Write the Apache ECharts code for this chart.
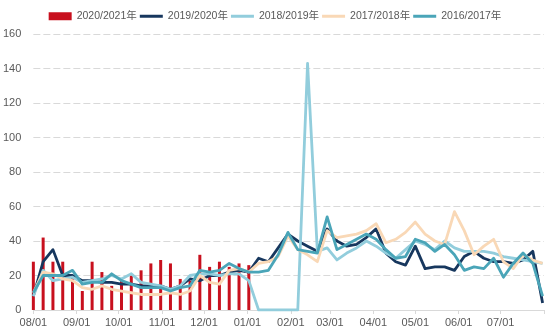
<!DOCTYPE html>
<html>
<head>
<meta charset="utf-8">
<script src="https://cdn.jsdelivr.net/npm/echarts@6/dist/echarts.min.js"></script>
<style>
html,body{margin:0;padding:0;background:#fff;}
#chart{width:550px;height:334px;}
</style>
</head>
<body>
<div id="chart"></div>
<script>
// Season names
const seriesNames = ['2020/2021年', '2019/2020年', '2018/2019年', '2017/2018年', '2016/2017年'];
// Month tick labels (MM/DD), season starts 08/01
const tickLabels = ['08/01', '09/01', '10/01', '11/01', '12/01', '01/01', '02/01', '03/01', '04/01', '05/01', '06/01', '07/01'];
const yTicks = [0, 20, 40, 60, 80, 100, 120, 140, 160];
// Weekly values (week 0 = 08/01)
const s2020 = [28, 42, 28, 28, 20, 11, 28, 22, 14, 18, 20, 23, 27, 29, 27, 18, 17, 32, 25, 28, 25, 27, 26];
const s2019 = [8, 28, 35, 20, 20, 17, 17, 16, 16, 15, 15, 14, 14, 14, 12, 14, 18, 17, 20, 20, 22, 23, 22, 30, 28, 36, 44, 40, 37, 34, 47, 40, 37, 38, 42, 47, 33, 28, 26, 37, 24, 25, 25, 23, 31, 34, 30, 28, 28, 27, 29, 34, 4];
const s2018 = [8, 23, 17, 18, 19, 16, 17, 18, 20, 18, 21, 16, 15, 14, 12, 14, 20, 21, 21, 20, 21, 21, 17, 0, 0, 0, 0, 0, 143, 34, 36, 29, 33, 36, 40, 37, 33, 30, 35, 40, 38, 35, 40, 36, 34, 34, 34, 33, 31, 30, 29, 28, 27];
const s2017 = [10, 22, 21, 18, 17, 13, 12, 14, 12, 11, 10, 9, 9, 9, 10, 9, 11, 20, 16, 15, 23, 24, 22, 27, 28, 31, 43, 35, 32, 28, 46, 42, 43, 44, 46, 50, 39, 41, 45, 51, 44, 40, 38, 57, 46, 32, 37, 41, 28, 24, 32, 29, 27];
const s2016 = [10, 20, 20, 20, 23, 15, 16, 16, 21, 17, 15, 13, 13, 13, 11, 13, 14, 23, 22, 23, 27, 24, 22, 22, 23, 32, 45, 35, 34, 33, 54, 35, 38, 41, 44, 41, 35, 30, 31, 41, 39, 34, 38, 32, 23, 25, 24, 30, 19, 27, 33, 27, 8];

const colors = ['#C8101E', '#17375E', '#92CDDC', '#F9D8B6', '#4AA5B8'];

// day offset from 08/01 for a MM/DD label
function dayOffset(lbl) {
  const m = parseInt(lbl.slice(0, 2), 10), d = parseInt(lbl.slice(3), 10);
  const y = m >= 8 ? 2020 : 2021;
  return Math.round((Date.UTC(y, m - 1, d) - Date.UTC(2020, 7, 1)) / 86400000);
}
const tickDays = tickLabels.map(dayOffset);
const labelByDay = {};
tickDays.forEach((d, i) => { labelByDay[d] = tickLabels[i]; });
const weekly = arr => arr.map((v, i) => [i * 7, v]);

const font = '"Liberation Sans", "Noto Sans CJK SC", sans-serif';
const chart = echarts.init(document.getElementById('chart'), null, { renderer: 'canvas' });
const lineIcon = 'path://M0,0 L23,0 L23,3 L0,3 Z';
const lineSeries = [s2019, s2018, s2017, s2016].map((arr, k) => ({
  name: seriesNames[k + 1],
  type: 'line',
  data: weekly(arr),
  showSymbol: false,
  symbol: 'none',
  lineStyle: { width: 2.8, color: colors[k + 1], join: 'round' },
  itemStyle: { color: colors[k + 1] },
  z: 3 + k
}));

chart.setOption({
  animation: false,
  textStyle: { fontFamily: font },
  legend: {
    top: 6,
    left: 'center',
    itemWidth: 23,
    itemHeight: 8,
    itemGap: 3,
    textStyle: { fontSize: 10.5, color: '#595959', fontFamily: font },
    data: [
      { name: seriesNames[0], icon: 'rect' },
      { name: seriesNames[1], icon: lineIcon },
      { name: seriesNames[2], icon: lineIcon },
      { name: seriesNames[3], icon: lineIcon },
      { name: seriesNames[4], icon: lineIcon }
    ]
  },
  grid: { left: 32, right: 6, top: 34, bottom: 24, containLabel: false },
  xAxis: {
    type: 'value',
    min: 0,
    max: 365,
    splitLine: { show: false },
    axisLine: { show: true, lineStyle: { color: '#D9D9D9', width: 1 } },
    axisTick: { show: true, customValues: tickDays.concat([365]), length: 4, lineStyle: { color: '#D9D9D9' } },
    axisLabel: {
      customValues: tickDays,
      formatter: v => labelByDay[v] || '',
      fontSize: 11,
      color: '#595959',
      margin: 7,
      fontFamily: font
    }
  },
  yAxis: {
    type: 'value',
    min: yTicks[0],
    max: yTicks[yTicks.length - 1],
    interval: yTicks[1] - yTicks[0],
    axisLine: { show: false },
    axisTick: { show: false },
    axisLabel: { fontSize: 11, color: '#595959', margin: 12, fontFamily: font },
    splitLine: { lineStyle: { color: '#D9D9D9', type: [7, 3], width: 1 } }
  },
  series: [
    {
      name: seriesNames[0],
      type: 'bar',
      data: weekly(s2020),
      barWidth: 3,
      itemStyle: { color: colors[0] },
      z: 2
    }
  ].concat(lineSeries)
});
</script>
</body>
</html>
